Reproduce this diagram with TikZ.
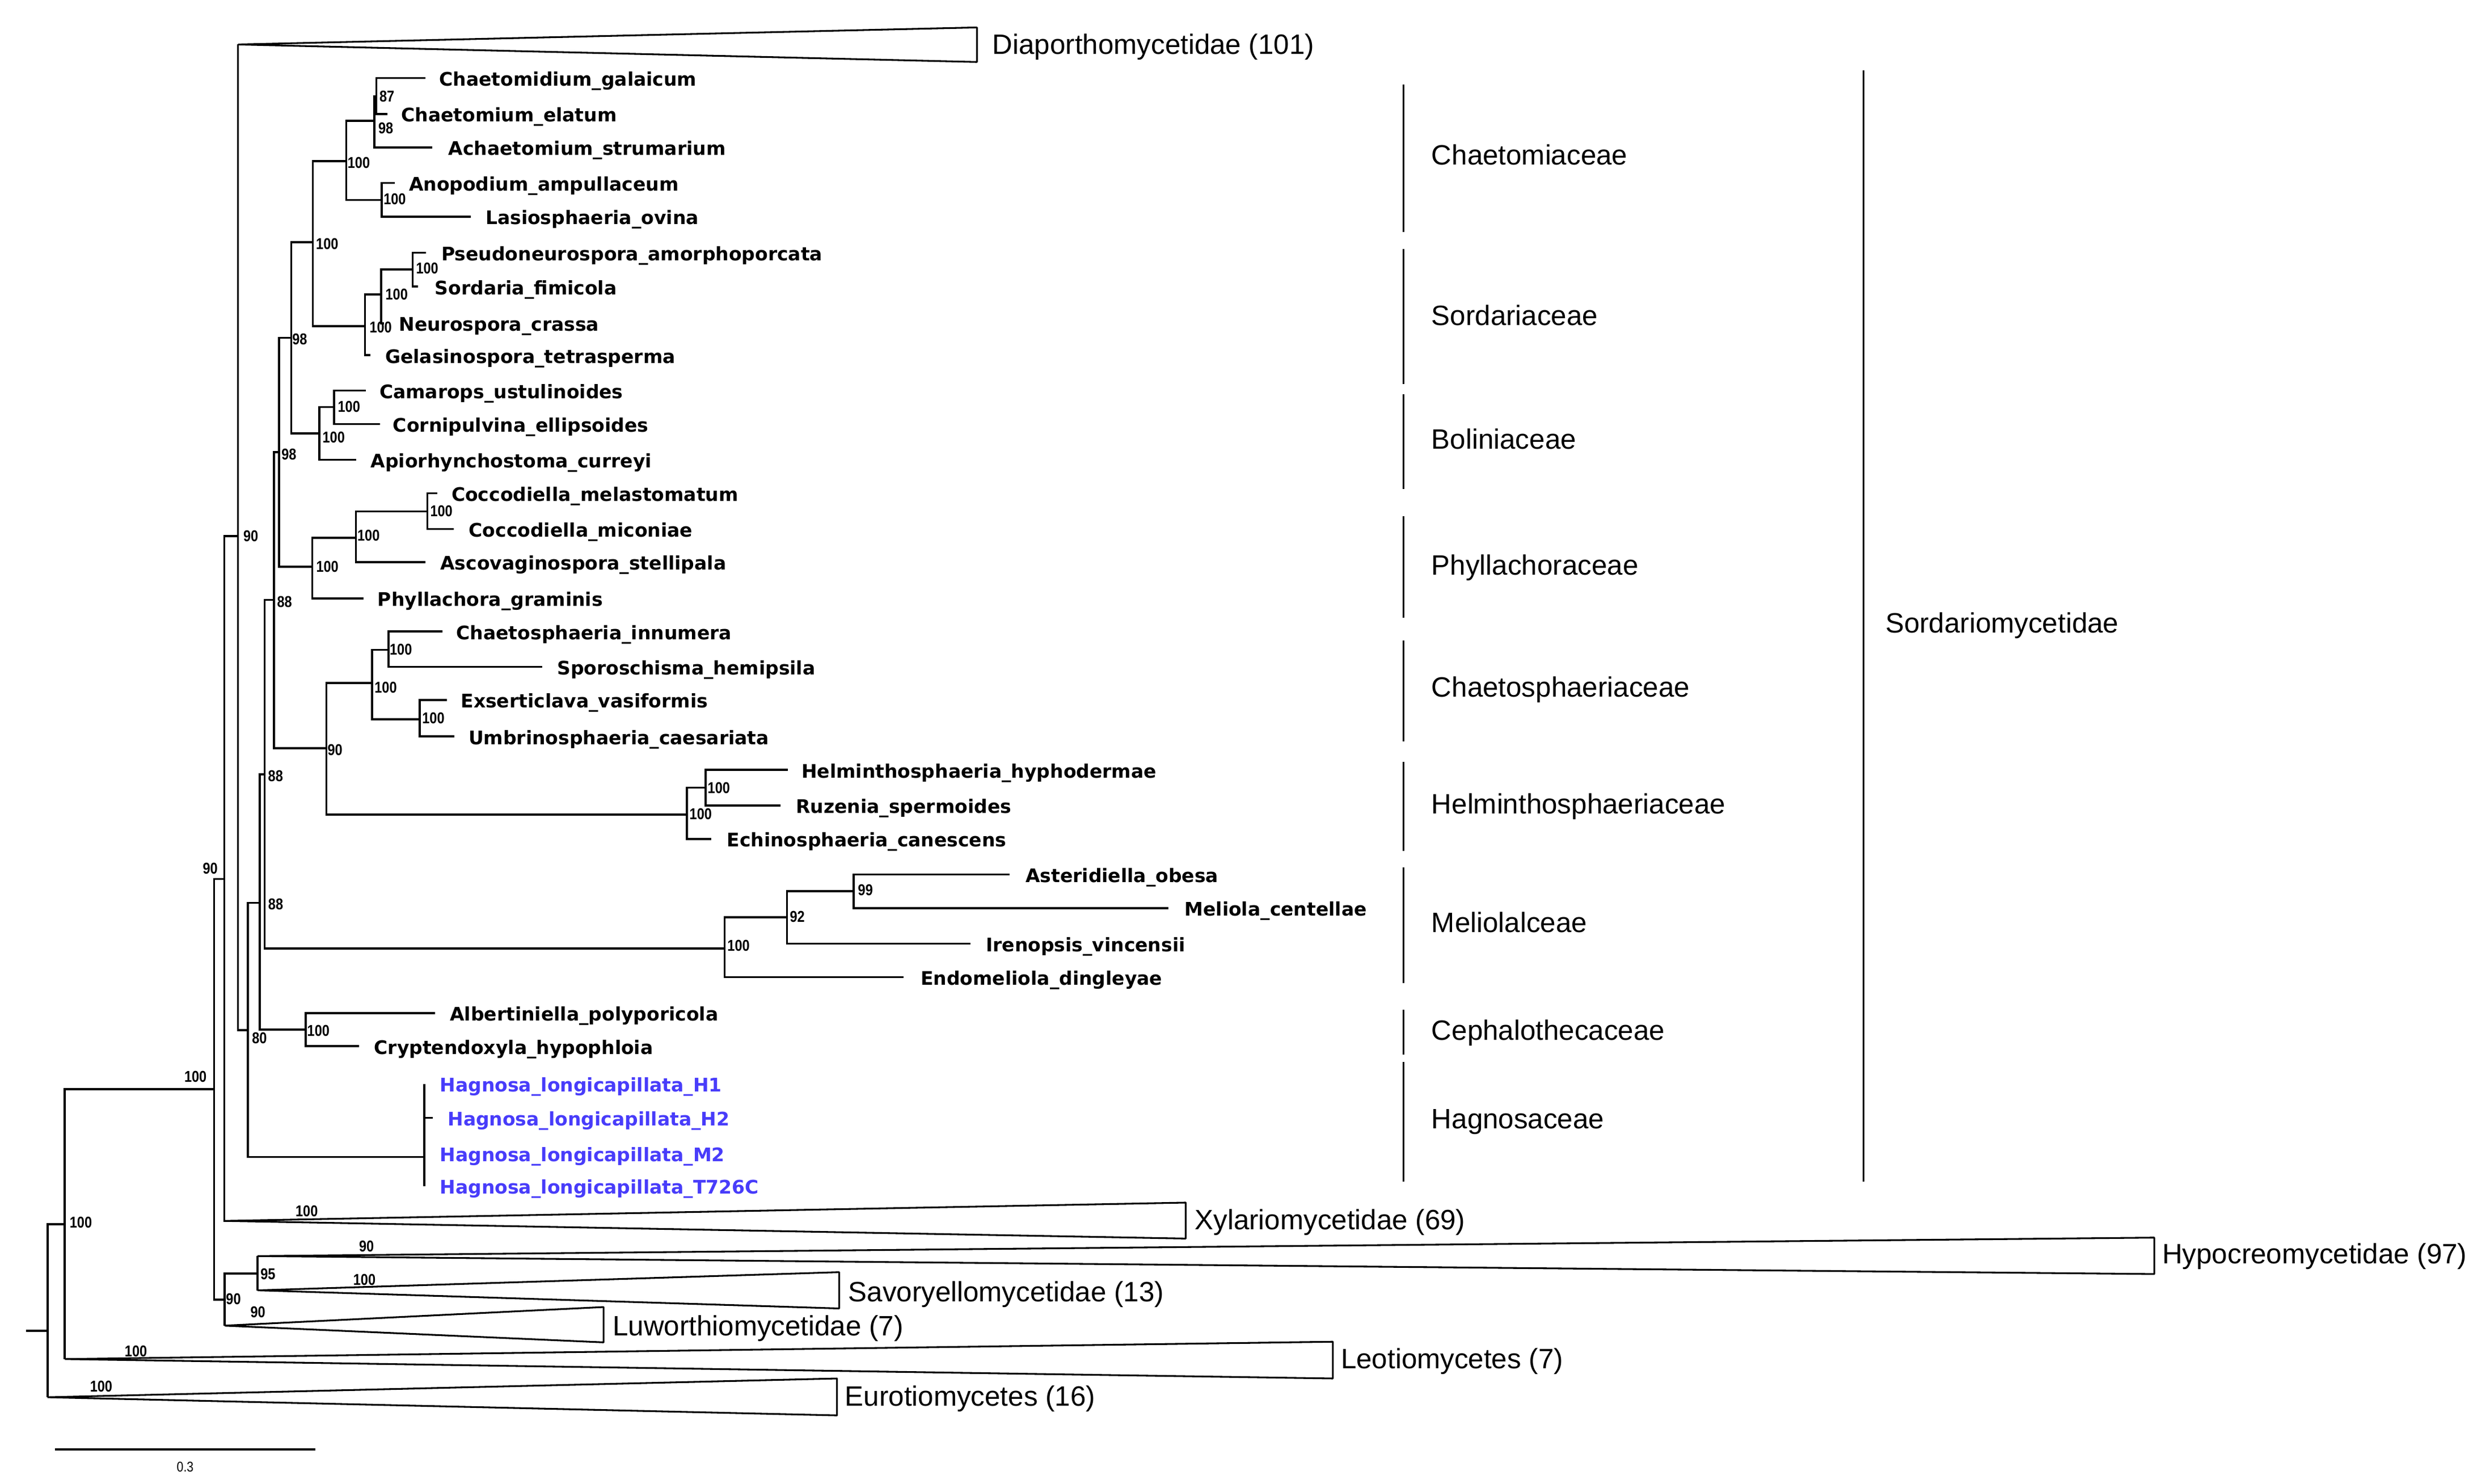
\documentclass[tikz,border=0pt]{standalone}
\usepackage{fontspec}
\setmainfont{Liberation Sans}
\newfontfamily\tipfont{DejaVu Sans}
\newfontfamily\supfont[FakeStretch=0.85]{Liberation Sans}
\definecolor{hagblue}{RGB}{72,60,250}
\tikzset{
  br/.style={line width=1.3bp, line join=miter},
  tri/.style={line width=1.1bp, line join=bevel},
  brk/.style={line width=1bp},
  tiplab/.style={anchor=base west, inner sep=0pt, font=\tipfont\bfseries\fontsize{11.9}{12}\selectfont},
  hag/.style={tiplab, text=hagblue},
  sup/.style={anchor=base west, inner sep=0pt, font=\supfont\bfseries\fontsize{10}{10}\selectfont},
  grp/.style={anchor=base west, inner sep=0pt, font=\fontsize{17.8}{18}\selectfont},
}
\begin{document}
\begin{tikzpicture}[x=1bp,y=-1bp]
\useasboundingbox (0,0) rectangle (1568,940.45);

% ---------- internal nodes ----------
\coordinate (A) at (238.6,61.1);
\coordinate (B) at (237.4,76.5);
\coordinate (C) at (219.6,102.2);
\coordinate (D) at (242.1,126.8);
\coordinate (G) at (261.6,170.9);
\coordinate (H) at (241.6,186.7);
\coordinate (I) at (231.4,206.8);
\coordinate (E) at (198.3,153.5);
\coordinate (J) at (211.8,258.0);
\coordinate (K) at (202.5,274.7);
\coordinate (F) at (184.6,214.1);
\coordinate (O) at (271.0,324.2);
\coordinate (N) at (225.6,341.0);
\coordinate (M) at (198.0,359.2);
\coordinate (L) at (176.9,286.7);
\coordinate (S) at (246.3,411.9);
\coordinate (U) at (266.1,456.0);
\coordinate (T) at (235.9,433.1);
\coordinate (X) at (447.3,499.4);
\coordinate (W) at (435.4,516.5);
\coordinate (V) at (207.0,474.3);
\coordinate (Q) at (173.8,380.3);
\coordinate (AC) at (541.3,565.0);
\coordinate (AB) at (499.0,581.6);
\coordinate (Y) at (459.4,601.2);
\coordinate (R) at (167.8,491.0);
\coordinate (CC) at (193.8,652.8);
\coordinate (Z) at (164.6,572.4);
\coordinate (Hag) at (268.9,733.4);
\coordinate (BB) at (157.2,653.0);
\coordinate (P) at (150.9,339.8);
\coordinate (AA) at (142.3,557.3);
\coordinate (GG) at (163.3,807.3);
\coordinate (FF) at (142.4,824.0);
\coordinate (DD) at (135.8,690.5);
\coordinate (EE) at (41.1,776.0);
\coordinate (root) at (30.1,843.7);
\coordinate (stub) at (16.5,843.7);
% collapsed clade apices
\coordinate (Dia) at (150.9,28.2);
\coordinate (Xyl) at (142.4,774.0);
\coordinate (Hyp) at (163.3,796.3);
\coordinate (Sav) at (163.3,818.0);
\coordinate (Luw) at (142.4,840.4);
\coordinate (Leo) at (41.1,861.6);
\coordinate (Eur) at (30.1,885.8);

% ---------- tip ends ----------
\coordinate (t1) at (269.7,49.4);
\coordinate (t2) at (245.5,72.3);
\coordinate (t3) at (274.0,93.5);
\coordinate (t4) at (250.3,116.0);
\coordinate (t5) at (298.5,137.3);
\coordinate (t6) at (270.0,160.2);
\coordinate (t7) at (265.0,181.7);
\coordinate (t8) at (243.6,205.0);
\coordinate (t9) at (234.7,225.2);
\coordinate (t10) at (231.9,247.6);
\coordinate (t11) at (241.0,268.8);
\coordinate (t12) at (225.9,291.5);
\coordinate (t13) at (277.4,312.7);
\coordinate (t14) at (287.8,335.3);
\coordinate (t15) at (269.9,356.4);
\coordinate (t16) at (230.5,379.4);
\coordinate (t17) at (280.4,400.3);
\coordinate (t18) at (343.7,422.8);
\coordinate (t19) at (283.5,443.8);
\coordinate (t20) at (288.2,466.9);
\coordinate (t21) at (499.5,488.1);
\coordinate (t22) at (495.0,510.6);
\coordinate (t23) at (451.0,531.9);
\coordinate (t24) at (640.0,554.4);
\coordinate (t25) at (740.8,575.7);
\coordinate (t26) at (615.3,598.2);
\coordinate (t27) at (572.9,619.5);
\coordinate (t28) at (275.8,642.2);
\coordinate (t29) at (227.6,663.2);
\coordinate (t30) at (268.9,687.1);
\coordinate (t31) at (274.4,708.7);
\coordinate (t32) at (268.9,731.3);
\coordinate (t33) at (268.9,751.9);

% ---------- tip labels ----------
\node[tiplab] (n1) at (278.4,54.4) {Chaetomidium\_galaicum};
\node[tiplab] (n2) at (254.2,77.3) {Chaetomium\_elatum};
\node[tiplab] (n3) at (284.2,98.5) {Achaetomium\_strumarium};
\node[tiplab] (n4) at (259.1,121.0) {Anopodium\_ampullaceum};
\node[tiplab] (n5) at (307.7,142.3) {Lasiosphaeria\_ovina};
\node[tiplab] (n6) at (279.7,165.2) {Pseudoneurospora\_amorphoporcata};
\node[tiplab] (n7) at (275.6,186.7) {Sordaria\_fimicola};
\node[tiplab] (n8) at (252.8,210.0) {Neurospora\_crassa};
\node[tiplab] (n9) at (244.0,230.2) {Gelasinospora\_tetrasperma};
\node[tiplab] (n10) at (240.4,252.6) {Camarops\_ustulinoides};
\node[tiplab] (n11) at (249.0,273.8) {Cornipulvina\_ellipsoides};
\node[tiplab] (n12) at (234.9,296.5) {Apiorhynchostoma\_curreyi};
\node[tiplab] (n13) at (286.1,317.7) {Coccodiella\_melastomatum};
\node[tiplab] (n14) at (297.1,340.3) {Coccodiella\_miconiae};
\node[tiplab] (n15) at (279.0,361.4) {Ascovaginospora\_stellipala};
\node[tiplab] (n16) at (239.3,384.4) {Phyllachora\_graminis};
\node[tiplab] (n17) at (289.2,405.3) {Chaetosphaeria\_innumera};
\node[tiplab] (n18) at (353.1,427.8) {Sporoschisma\_hemipsila};
\node[tiplab] (n19) at (292.0,448.8) {Exserticlava\_vasiformis};
\node[tiplab] (n20) at (296.9,471.9) {Umbrinosphaeria\_caesariata};
\node[tiplab] (n21) at (508.0,493.1) {Helminthosphaeria\_hyphodermae};
\node[tiplab] (n22) at (504.5,515.6) {Ruzenia\_spermoides};
\node[tiplab] (n23) at (460.7,536.9) {Echinosphaeria\_canescens};
\node[tiplab] (n24) at (650.1,559.4) {Asteridiella\_obesa};
\node[tiplab] (n25) at (750.9,580.7) {Meliola\_centellae};
\node[tiplab] (n26) at (624.9,603.2) {Irenopsis\_vincensii};
\node[tiplab] (n27) at (583.6,624.5) {Endomeliola\_dingleyae};
\node[tiplab] (n28) at (285.1,647.2) {Albertiniella\_polyporicola};
\node[tiplab] (n29) at (237.0,668.2) {Cryptendoxyla\_hypophloia};
\node[hag] (n30) at (278.8,692.1) {Hagnosa\_longicapillata\_H1};
\node[hag] (n31) at (283.7,713.7) {Hagnosa\_longicapillata\_H2};
\node[hag] (n32) at (278.8,736.3) {Hagnosa\_longicapillata\_M2};
\node[hag] (n33) at (278.8,756.9) {Hagnosa\_longicapillata\_T726C};

% ---------- branches ----------
\draw[br] (A) |- (t1); \draw[br] (A) |- (t2);
\draw[br] (B) |- (A);  \draw[br] (B) |- (t3);
\draw[br] (D) |- (t4); \draw[br] (D) |- (t5);
\draw[br] (C) |- (B);  \draw[br] (C) |- (D);
\draw[br] (G) |- (t6); \draw[br] (G) |- (t7);
\draw[br] (H) |- (G);  \draw[br] (H) |- (t8);
\draw[br] (I) |- (H);  \draw[br] (I) |- (t9);
\draw[br] (E) |- (C);  \draw[br] (E) |- (I);
\draw[br] (J) |- (t10); \draw[br] (J) |- (t11);
\draw[br] (K) |- (J);  \draw[br] (K) |- (t12);
\draw[br] (F) |- (E);  \draw[br] (F) |- (K);
\draw[br] (O) |- (t13); \draw[br] (O) |- (t14);
\draw[br] (N) |- (O);  \draw[br] (N) |- (t15);
\draw[br] (M) |- (N);  \draw[br] (M) |- (t16);
\draw[br] (L) |- (F);  \draw[br] (L) |- (M);
\draw[br] (S) |- (t17); \draw[br] (S) |- (t18);
\draw[br] (U) |- (t19); \draw[br] (U) |- (t20);
\draw[br] (T) |- (S);  \draw[br] (T) |- (U);
\draw[br] (X) |- (t21); \draw[br] (X) |- (t22);
\draw[br] (W) |- (X);  \draw[br] (W) |- (t23);
\draw[br] (V) |- (T);  \draw[br] (V) |- (W);
\draw[br] (Q) |- (L);  \draw[br] (Q) |- (V);
\draw[br] (AC) |- (t24); \draw[br] (AC) |- (t25);
\draw[br] (AB) |- (AC); \draw[br] (AB) |- (t26);
\draw[br] (Y) |- (AB);  \draw[br] (Y) |- (t27);
\draw[br] (R) |- (Q);  \draw[br] (R) |- (Y);
\draw[br] (CC) |- (t28); \draw[br] (CC) |- (t29);
\draw[br] (Z) |- (R);  \draw[br] (Z) |- (CC);
\draw[br] (Hag) |- (t30); \draw[br] (Hag) |- (t31);
\draw[br] (Hag) |- (t32); \draw[br] (Hag) |- (t33);
\draw[br] (BB) |- (Z); \draw[br] (BB) |- (Hag);
\draw[br] (P) |- (Dia); \draw[br] (P) |- (BB);
\draw[br] (AA) |- (P); \draw[br] (AA) |- (Xyl);
\draw[br] (GG) |- (Hyp); \draw[br] (GG) |- (Sav);
\draw[br] (FF) |- (GG); \draw[br] (FF) |- (Luw);
\draw[br] (DD) |- (AA); \draw[br] (DD) |- (FF);
\draw[br] (EE) |- (DD); \draw[br] (EE) |- (Leo);
\draw[br] (root) |- (EE); \draw[br] (root) |- (Eur);
\draw[br] (stub) -- (root);

% ---------- collapsed clades ----------
\draw[tri] (Dia) -- (619.4,17.4) -- (619.4,39.3) -- cycle;
\draw[tri] (Xyl) -- (751.8,762.4) -- (751.8,785.2) -- cycle;
\draw[tri] (Hyp) -- (1365.9,784.6) -- (1365.9,807.7) -- cycle;
\draw[tri] (Sav) -- (532.1,806.5) -- (532.1,829.5) -- cycle;
\draw[tri] (Luw) -- (382.7,828.6) -- (382.7,851.0) -- cycle;
\draw[tri] (Leo) -- (845.1,850.6) -- (845.1,873.9) -- cycle;
\draw[tri] (Eur) -- (530.7,873.9) -- (530.7,897.3) -- cycle;

\node[grp] (lDia) at (629.1,34.2) {Diaporthomycetidae (101)};
\node[grp] (lXyl) at (757.4,779.4) {Xylariomycetidae (69)};
\node[grp] (lHyp) at (1370.8,801.0) {Hypocreomycetidae (97)};
\node[grp] (lSav) at (537.7,825.0) {Savoryellomycetidae (13)};
\node[grp] (lLuw) at (388.3,846.8) {Luworthiomycetidae (7)};
\node[grp] (lLeo) at (850.0,867.5) {Leotiomycetes (7)};
\node[grp] (lEur) at (535.6,891.5) {Eurotiomycetes (16)};

% ---------- support values ----------
\node[sup] at (240.4,64.4) {87};
\node[sup] at (239.7,84.6) {98};
\node[sup] at (220.2,106.8) {100};
\node[sup] at (243.0,129.5) {100};
\node[sup] at (200.2,158.2) {100};
\node[sup] at (263.6,173.6) {100};
\node[sup] at (244.2,190.0) {100};
\node[sup] at (234.1,211.1) {100};
\node[sup] at (185.1,218.6) {98};
\node[sup] at (214.0,261.3) {100};
\node[sup] at (204.3,280.6) {100};
\node[sup] at (178.3,291.3) {98};
\node[sup] at (272.6,327.6) {100};
\node[sup] at (226.4,343.0) {100};
\node[sup] at (200.3,362.6) {100};
\node[sup] at (175.5,385.0) {88};
\node[sup] at (246.9,415.3) {100};
\node[sup] at (237.3,439.2) {100};
\node[sup] at (267.5,458.8) {100};
\node[sup] at (207.5,479.0) {90};
\node[sup] at (448.5,502.9) {100};
\node[sup] at (437.0,519.6) {100};
\node[sup] at (169.8,495.4) {88};
\node[sup] at (543.8,567.6) {99};
\node[sup] at (500.6,584.4) {92};
\node[sup] at (461.0,603.0) {100};
\node[sup] at (169.9,576.6) {88};
\node[sup] at (194.6,656.9) {100};
\node[sup] at (159.6,661.6) {80};
\node[sup] at (154.1,343.1) {90};
\node[sup] at (128.4,553.9) {90};
\node[sup] at (116.7,686.1) {100};
\node[sup] at (187.2,771.1) {100};
\node[sup] at (143.1,827.1) {90};
\node[sup] at (165.0,811.3) {95};
\node[sup] at (227.5,793.6) {90};
\node[sup] at (223.8,814.6) {100};
\node[sup] at (158.6,835.3) {90};
\node[sup] at (44.0,778.5) {100};
\node[sup] at (78.9,860.1) {100};
\node[sup] at (56.9,882.5) {100};

% ---------- family / subclass brackets ----------
\draw[brk] (890,53.6) -- (890,147.2);
\draw[brk] (890,158.0) -- (890,243.5);
\draw[brk] (890,250.0) -- (890,310.0);
\draw[brk] (890,327.3) -- (890,391.5);
\draw[brk] (890,405.9) -- (890,470.2);
\draw[brk] (890,482.8) -- (890,539.6);
\draw[brk] (890,549.7) -- (890,623.1);
\draw[brk] (890,640.3) -- (890,668.5);
\draw[brk] (890,673.1) -- (890,749.0);
\draw[brk] (1181.5,44.5) -- (1181.5,749.0);

\node[grp] at (907.5,104.6) {Chaetomiaceae};
\node[grp] at (907.5,206.2) {Sordariaceae};
\node[grp] at (907.5,284.6) {Boliniaceae};
\node[grp] at (907.5,364.4) {Phyllachoraceae};
\node[grp] at (907.5,441.9) {Chaetosphaeriaceae};
\node[grp] at (907.5,516.0) {Helminthosphaeriaceae};
\node[grp] at (907.5,591.0) {Meliolalceae};
\node[grp] at (907.5,659.2) {Cephalothecaceae};
\node[grp] at (907.5,715.5) {Hagnosaceae};
\node[grp] at (1195.3,401.0) {Sordariomycetidae};

% ---------- scale bar ----------
\coordinate (sb1) at (34.9,918.9);
\coordinate (sb2) at (200.0,918.9);
\draw[br] (sb1) -- (sb2);
\node[font=\supfont\fontsize{9}{9}\selectfont, inner sep=0pt] (sbl) at (117.4,929.9) {0.3};
\end{tikzpicture}
\end{document}
